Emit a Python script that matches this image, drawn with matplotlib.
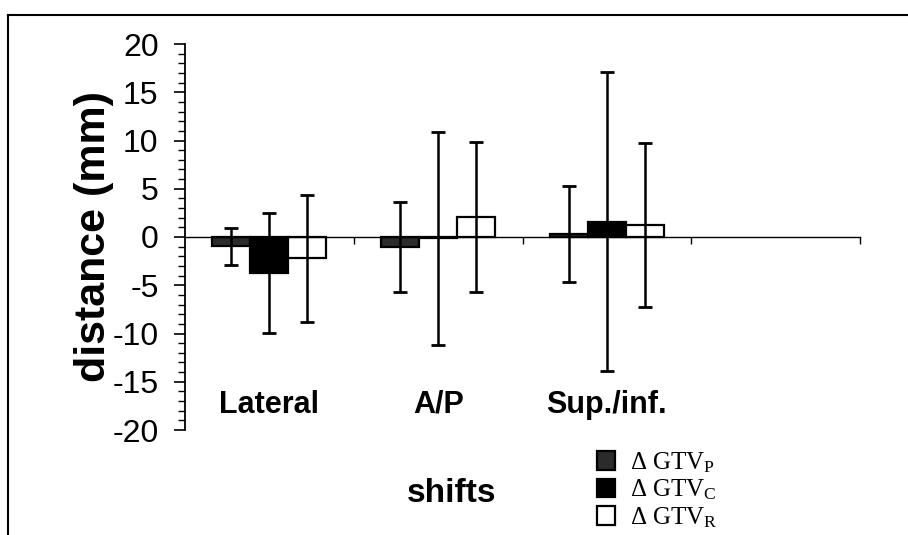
#!/usr/bin/env python3
"""Grouped bar chart of GTV shifts with symmetric error bars."""

import matplotlib
matplotlib.use("Agg")
import matplotlib.pyplot as plt
from matplotlib.lines import Line2D
import numpy as np

plt.rcParams["font.family"] = ["Liberation Sans", "DejaVu Sans"]
plt.rcParams["axes.unicode_minus"] = False
plt.rcParams["mathtext.fontset"] = "custom"
plt.rcParams["mathtext.rm"] = "Liberation Serif"
plt.rcParams["mathtext.it"] = "Liberation Serif:italic"

categories = ["Lateral", "A/P", "Sup./inf."]
series_names = [r"$\Delta\ \mathrm{GTV}_{\mathrm{P}}$",
                r"$\Delta\ \mathrm{GTV}_{\mathrm{C}}$",
                r"$\Delta\ \mathrm{GTV}_{\mathrm{R}}$"]
gtv_p = [-0.95, -1.05, 0.3]
gtv_p_err = [1.9, 4.7, 5.0]
gtv_c = [-3.75, -0.15, 1.6]
gtv_c_err = [6.2, 11.0, 15.5]
gtv_r = [-2.2, 2.05, 1.2]
gtv_r_err = [6.6, 7.75, 8.5]

W, H = 908, 535
fig = plt.figure(figsize=(W / 100, H / 100), dpi=100)
ax = fig.add_axes([185 / W, 1 - 430 / H, 675 / W, 386 / H])

x = np.arange(len(categories))
width = 0.225
styles = [
    dict(color="#2b2b2b", edgecolor="black"),
    dict(color="black", edgecolor="black"),
    dict(color="white", edgecolor="black"),
]
values = [gtv_p, gtv_c, gtv_r]
errors = [gtv_p_err, gtv_c_err, gtv_r_err]
handles = []
for i, (vals, errs, st) in enumerate(zip(values, errors, styles)):
    bars = ax.bar(x + (i - 1) * width, vals, width, linewidth=1.6, zorder=2, **st)
    ax.errorbar(x + (i - 1) * width, vals, yerr=errs, fmt="none", ecolor="black",
                elinewidth=1.8, capsize=5, capthick=2, zorder=3)
    handles.append(bars)

ax.set_xlim(-0.5, 3.5)
ax.set_ylim(-20, 20)
ax.set_yticks(np.arange(-20, 21, 5))
ax.set_yticks(np.arange(-20, 21, 1), minor=True)
ax.tick_params(axis="y", which="major", direction="out", length=8, width=1.2,
               labelsize=23, pad=11)
ax.tick_params(axis="y", which="minor", direction="out", length=5, width=1.0)

ax.spines["top"].set_visible(False)
ax.spines["right"].set_visible(False)
ax.spines["left"].set_linewidth(1.3)
ax.spines["bottom"].set_position(("data", 0))
ax.spines["bottom"].set_linewidth(1.0)
ax.set_xticks([0.5, 1.5, 2.5, 3.5])
ax.set_xticklabels([])
ax.tick_params(axis="x", direction="out", length=5, width=1.0)

for xi, name in zip(x, categories):
    ax.text(xi, -17.4, name, ha="center", va="center", fontsize=22,
            fontweight="bold")

fig.text(94 / W, 1 - 237 / H, "distance (mm)", rotation=90, ha="center",
         va="center", fontsize=31, fontweight="bold")
fig.text(452 / W, 1 - 493 / H, "shifts", ha="center", va="center",
         fontsize=24, fontweight="bold")

fig.legend(handles, series_names, loc="center left",
           bbox_to_anchor=(584 / W, 1 - 490 / H), frameon=False,
           fontsize=18, handlelength=0.75, handleheight=0.75,
           handletextpad=0.6, labelspacing=0.12, borderpad=0)

# outer frame of the scanned figure
fig.add_artist(Line2D([8 / W, 1], [1 - 15 / H, 1 - 15 / H], color="black",
                      linewidth=1.5, transform=fig.transFigure))
fig.add_artist(Line2D([8 / W, 8 / W], [0, 1 - 15 / H], color="black",
                      linewidth=1.5, transform=fig.transFigure))

fig.savefig("out.png", dpi=100, facecolor="white")
